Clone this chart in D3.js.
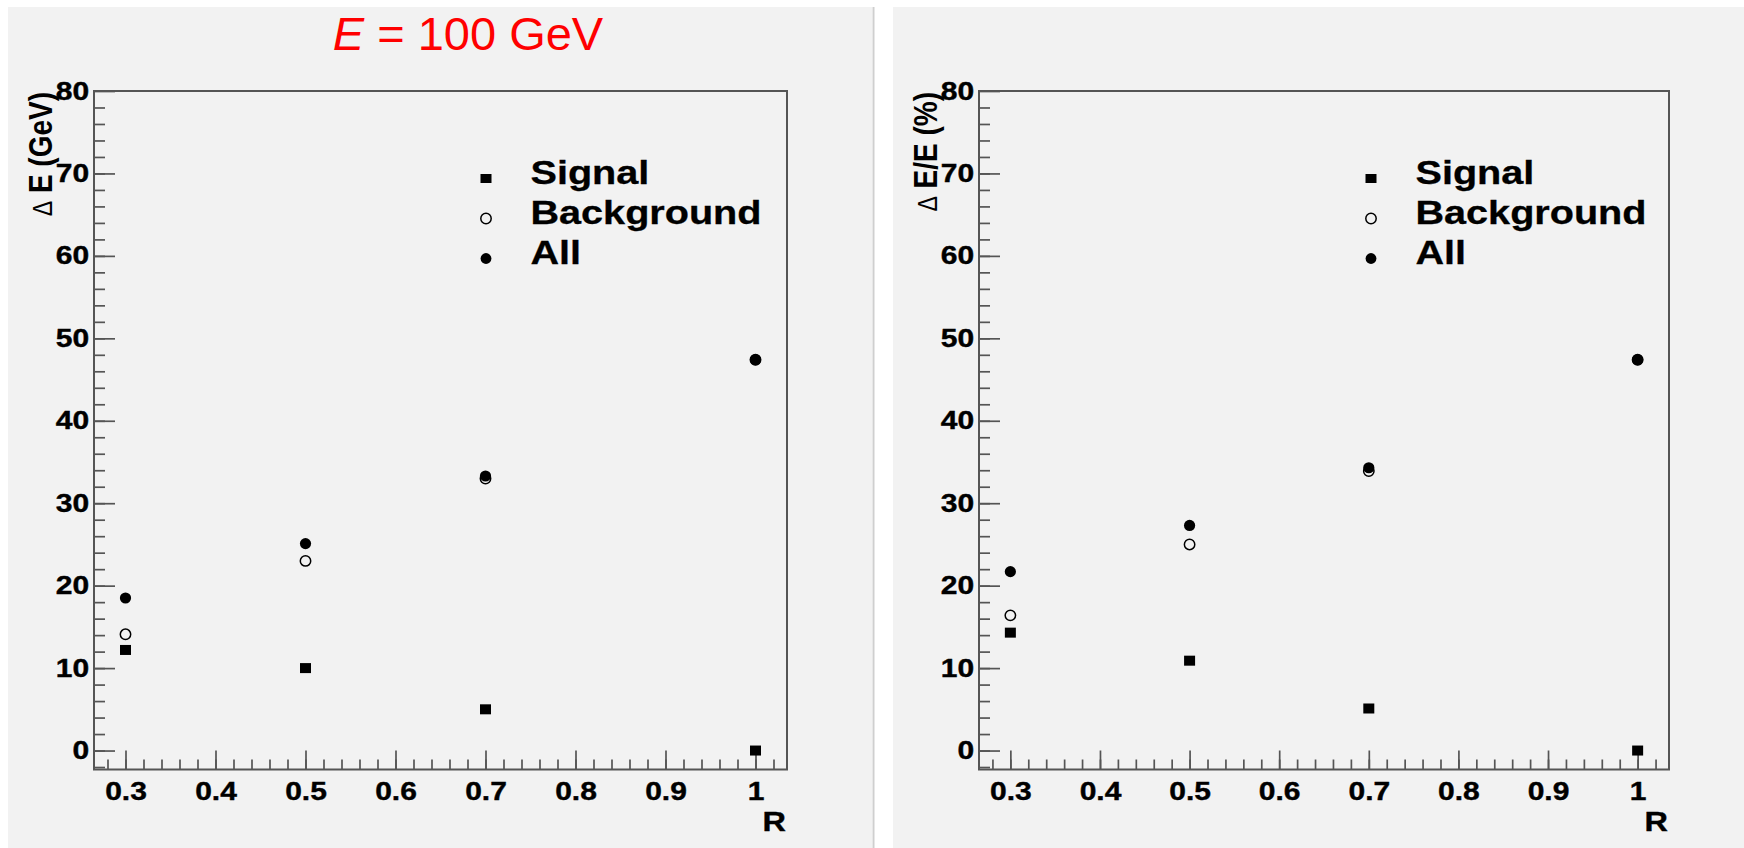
<!DOCTYPE html>
<html>
<head>
<meta charset="utf-8">
<script src="https://cdn.jsdelivr.net/npm/d3@7"></script>
<style>
	body{margin:0;background:#fff;}
	svg{display:block;}
	text{font-family:"Liberation Sans",Arial,Helvetica,sans-serif;}
</style>
</head>
<body>
<svg id="chart" width="1744" height="848"></svg>
<script>
// values
var rValues = [0.3, 0.5, 0.7, 1];
var rTicks = [0.3, 0.4, 0.5, 0.6, 0.7, 0.8, 0.9, 1];
var rTickLabels = ["0.3", "0.4", "0.5", "0.6", "0.7", "0.8", "0.9", "1"];
var yTicks = [0, 10, 20, 30, 40, 50, 60, 70, 80];
var seriesNames = ["Signal", "Background", "All"];

// left plot: Delta E in GeV
var signalGeV = [12.2, 10.0, 5.0, 0];
var backgroundGeV = [14.1, 23.0, 33.0, 47.4];
var allGeV = [18.5, 25.1, 33.3, 47.4];

// right plot: Delta E / E in %
var signalPct = [14.3, 10.9, 5.1, 0];
var backgroundPct = [16.4, 25.0, 33.9, 47.4];
var allPct = [21.7, 27.3, 34.3, 47.4];

var SX = 1.2; // the source picture is stretched sideways, text follows it
var axisColor = "#555";

var svg = d3.select("#chart");

// grey pads + the thin divider between them
svg.append("rect").attr("x", 8).attr("y", 7).attr("width", 864).attr("height", 841).attr("fill", "#f2f2f2");
svg.append("rect").attr("x", 893).attr("y", 7).attr("width", 851).attr("height", 841).attr("fill", "#f2f2f2");
svg.append("line").attr("x1", 873.5).attr("x2", 873.5).attr("y1", 7).attr("y2", 848)
	.attr("stroke", "#cfcfcf").attr("stroke-width", 2);

// red title on top of the left pad
var title = svg.append("text").attr("x", 468).attr("y", 50)
	.attr("text-anchor", "middle").attr("fill", "#ff0000").style("font-size", "47px");
title.append("tspan").style("font-style", "italic").text("E");
title.append("tspan").text(" = 100 GeV");

function styleAxis(sel){
	sel.attr("font-family", null).attr("font-size", null);
	sel.select(".domain").remove();
	sel.selectAll("line").attr("stroke", axisColor).attr("stroke-width", 1.7);
}

function boldLabels(sel, size){
	sel.attr("transform", "scale(" + SX + ",1)")
		.attr("fill", "#000").attr("stroke", "#000").attr("stroke-width", 0.4)
		.style("font-size", size + "px").style("font-weight", "bold");
}

function drawPanel(cfg){
	var x = d3.scaleLinear().domain([0.265, 1.035]).range([cfg.left, cfg.right]);
	var y = d3.scaleLinear().domain([-2.3, 80]).range([cfg.bottom, cfg.top]);
	var g = svg.append("g");

	// x ticks, pointing up into the frame
	var xMinor = d3.range(14, 52).map(function(d){ return d / 50; });
	g.append("g").attr("transform", "translate(0," + cfg.bottom + ")")
		.call(d3.axisBottom(x).tickValues(xMinor).tickSize(-10).tickFormat(""))
		.call(styleAxis);
	var xAxis = g.append("g").attr("transform", "translate(0," + cfg.bottom + ")")
		.call(d3.axisBottom(x).tickValues(rTicks).tickSizeInner(-19).tickSizeOuter(0)
			.tickPadding(13).tickFormat(function(d, i){ return rTickLabels[i]; }))
		.call(styleAxis);
	boldLabels(xAxis.selectAll("text"), 25);

	// y ticks, pointing right into the frame
	var yMinor = d3.range(-2, 80, 2);
	g.append("g").attr("transform", "translate(" + cfg.left + ",0)")
		.call(d3.axisLeft(y).tickValues(yMinor).tickSize(-11).tickFormat(""))
		.call(styleAxis);
	var yAxis = g.append("g").attr("transform", "translate(" + cfg.left + ",0)")
		.call(d3.axisLeft(y).tickValues(yTicks).tickSizeInner(-21).tickSizeOuter(0).tickPadding(4))
		.call(styleAxis);
	boldLabels(yAxis.selectAll("text"), 25);

	// frame
	g.append("rect").attr("x", cfg.left).attr("y", cfg.top)
		.attr("width", cfg.right - cfg.left).attr("height", cfg.bottom - cfg.top)
		.attr("fill", "none").attr("stroke", axisColor).attr("stroke-width", 2);

	// axis titles
	g.append("text").attr("text-anchor", "end")
		.attr("transform", "translate(" + (cfg.right - 1) + "," + (cfg.bottom + 61) + ") scale(" + SX + ",1)")
		.attr("stroke", "#000").attr("stroke-width", 0.4)
		.style("font-size", "27px").style("font-weight", "bold").text("R");
	var yt = g.append("text").attr("text-anchor", "end")
		.attr("transform", "translate(" + (cfg.left - 42) + "," + (cfg.top + 1) + ") scale(" + SX + ",1) rotate(-90)")
		.style("font-size", "28px").style("font-weight", "bold");
	yt.append("tspan").style("font-weight", "normal").style("font-size", "23px").text("\u0394");
	yt.append("tspan").text(cfg.yTitle);

	// markers
	var pts = function(vals){ return d3.zip(rValues, vals); };
	g.selectAll(".bkg").data(pts(cfg.background)).enter().append("circle")
		.attr("cx", function(d){ return x(d[0]); }).attr("cy", function(d){ return y(d[1]); })
		.attr("r", 5.2).attr("fill", "none").attr("stroke", "#000").attr("stroke-width", 1.5);
	g.selectAll(".sig").data(pts(cfg.signal)).enter().append("rect")
		.attr("x", function(d){ return x(d[0]) - 5.5; }).attr("y", function(d){ return y(d[1]) - 5; })
		.attr("width", 11).attr("height", 10).attr("fill", "#000");
	g.selectAll(".all").data(pts(cfg.all)).enter().append("circle")
		.attr("cx", function(d){ return x(d[0]); }).attr("cy", function(d){ return y(d[1]); })
		.attr("r", 5.6).attr("fill", "#000");

	// legend
	var leg = g.selectAll(".leg").data(seriesNames).enter().append("g")
		.attr("transform", function(d, i){ return "translate(" + (cfg.left + 392) + "," + (178.5 + 40 * i) + ")"; });
	leg.each(function(d, i){
		var s = d3.select(this);
		if(i == 0){
			s.append("rect").attr("x", -5.5).attr("y", -4.5).attr("width", 11).attr("height", 9).attr("fill", "#000");
		}else if(i == 1){
			s.append("circle").attr("r", 5.2).attr("fill", "none").attr("stroke", "#000").attr("stroke-width", 1.5);
		}else{
			s.append("circle").attr("r", 5.4).attr("fill", "#000");
		}
	});
	leg.append("text").attr("transform", "translate(44.5,5.5) scale(" + SX + ",1)")
		.attr("stroke", "#000").attr("stroke-width", 0.3)
		.style("font-size", "33px").style("font-weight", "bold").text(function(d){ return d; });
}

drawPanel({left: 94, right: 787, top: 91, bottom: 769.5, yTitle: " E (GeV)",
	signal: signalGeV, background: backgroundGeV, all: allGeV});
drawPanel({left: 979, right: 1669, top: 91, bottom: 769.5, yTitle: " E/E (%)",
	signal: signalPct, background: backgroundPct, all: allPct});
</script>
</body>
</html>
